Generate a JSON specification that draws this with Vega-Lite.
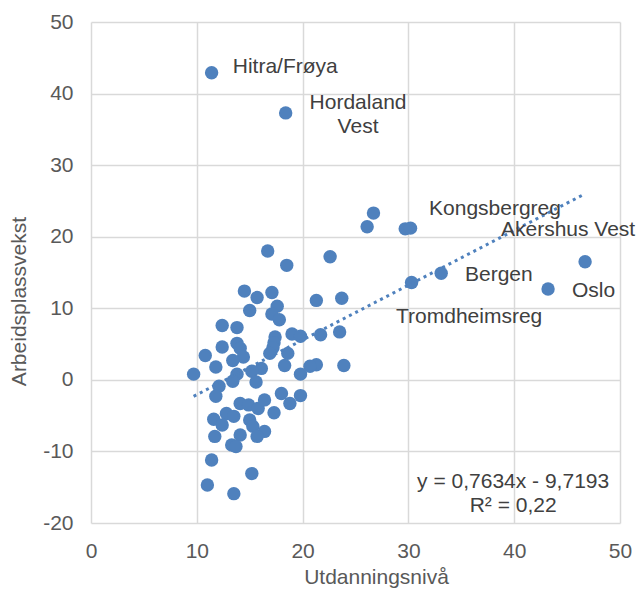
{
  "$schema": "https://vega.github.io/schema/vega-lite/v6.json",
  "width": 529,
  "height": 501,
  "autosize": "none",
  "padding": {"left": 91, "top": 22, "right": 20, "bottom": 67},
  "background": "white",
  "config": {
    "view": {"stroke": null},
    "font": "Liberation Sans",
    "axis": {
      "grid": true,
      "gridColor": "#d9d9d9",
      "gridWidth": 1.5,
      "domain": false,
      "ticks": false,
      "labelFlush": false,
      "labelFont": "Liberation Sans",
      "labelFontSize": 21,
      "labelColor": "#595959",
      "titleFont": "Liberation Sans",
      "titleFontSize": 21,
      "titleFontWeight": "normal",
      "titleColor": "#595959"
    }
  },
  "datasets": {
    "pts": [
      {"x": 11.4, "y": 42.9}, {"x": 18.4, "y": 37.3}, {"x": 26.7, "y": 23.3}, {"x": 26.1, "y": 21.4},
      {"x": 29.7, "y": 21.1}, {"x": 30.2, "y": 21.2}, {"x": 33.1, "y": 14.9}, {"x": 30.3, "y": 13.6},
      {"x": 43.2, "y": 12.7}, {"x": 46.7, "y": 16.5}, {"x": 22.6, "y": 17.2}, {"x": 16.7, "y": 18.0},
      {"x": 18.5, "y": 16.0}, {"x": 14.5, "y": 12.4}, {"x": 15.7, "y": 11.5}, {"x": 17.1, "y": 12.2},
      {"x": 17.6, "y": 10.3}, {"x": 15.0, "y": 9.7}, {"x": 17.1, "y": 9.2}, {"x": 17.8, "y": 8.4},
      {"x": 21.3, "y": 11.1}, {"x": 23.7, "y": 11.4}, {"x": 12.4, "y": 7.6}, {"x": 13.8, "y": 7.3},
      {"x": 19.0, "y": 6.4}, {"x": 19.8, "y": 6.1}, {"x": 21.7, "y": 6.3}, {"x": 23.5, "y": 6.7},
      {"x": 17.4, "y": 6.0}, {"x": 17.3, "y": 5.2}, {"x": 13.8, "y": 5.1}, {"x": 12.4, "y": 4.6},
      {"x": 14.1, "y": 4.4}, {"x": 14.4, "y": 3.2}, {"x": 17.2, "y": 4.5}, {"x": 10.8, "y": 3.4},
      {"x": 13.4, "y": 2.7}, {"x": 16.9, "y": 3.7}, {"x": 18.6, "y": 3.7}, {"x": 11.8, "y": 1.8},
      {"x": 9.7, "y": 0.8}, {"x": 16.1, "y": 1.6}, {"x": 18.3, "y": 2.0}, {"x": 21.3, "y": 2.1},
      {"x": 20.7, "y": 1.9}, {"x": 23.9, "y": 2.0}, {"x": 19.8, "y": 0.8}, {"x": 15.2, "y": 1.2},
      {"x": 13.8, "y": 0.8}, {"x": 13.4, "y": -0.2}, {"x": 15.6, "y": -0.3}, {"x": 12.1, "y": -0.9},
      {"x": 11.8, "y": -2.3}, {"x": 18.0, "y": -1.9}, {"x": 18.8, "y": -3.3}, {"x": 19.8, "y": -2.2},
      {"x": 14.1, "y": -3.3}, {"x": 14.9, "y": -3.5}, {"x": 15.8, "y": -4.0}, {"x": 16.4, "y": -2.8},
      {"x": 17.3, "y": -4.6}, {"x": 12.8, "y": -4.7}, {"x": 11.6, "y": -5.5}, {"x": 12.4, "y": -6.3},
      {"x": 13.5, "y": -5.1}, {"x": 15.0, "y": -5.6}, {"x": 15.3, "y": -6.5}, {"x": 16.4, "y": -7.2},
      {"x": 15.7, "y": -7.9}, {"x": 14.1, "y": -7.7}, {"x": 11.7, "y": -7.9}, {"x": 13.3, "y": -9.1},
      {"x": 13.7, "y": -9.3}, {"x": 11.4, "y": -11.2}, {"x": 15.2, "y": -13.1}, {"x": 11.0, "y": -14.7},
      {"x": 13.5, "y": -15.9}
    ],
    "trend": [
      {"x": 9.7, "y": -2.3},
      {"x": 46.7, "y": 26.0}
    ],
    "lblLeft": [
      {"t": "Hitra/Frøya", "x": 13.4, "y": 43.7},
      {"t": "Kongsbergreg", "x": 31.95, "y": 23.9},
      {"t": "Akershus Vest", "x": 38.75, "y": 20.96},
      {"t": "Bergen", "x": 35.35, "y": 14.67},
      {"t": "Oslo", "x": 45.46, "y": 12.44},
      {"t": "Tromdheimsreg", "x": 28.83, "y": 8.8}
    ],
    "lblCenter": [
      {"t": "Hordaland", "x": 25.24, "y": 38.7},
      {"t": "Vest", "x": 25.24, "y": 35.35},
      {"t": "y = 0,7634x - 9,7193", "x": 39.9, "y": -14.3},
      {"t": "R² = 0,22", "x": 39.9, "y": -17.6}
    ]
  },
  "layer": [
    {
      "data": {"name": "pts"},
      "mark": {"type": "circle", "size": 180, "color": "#4f81bd", "opacity": 1},
      "encoding": {
        "x": {"field": "x", "type": "quantitative", "scale": {"domain": [0, 50], "nice": false},
              "axis": {"values": [0, 10, 20, 30, 40, 50], "labelExpr": "replace(format(datum.value, 'd'), '\u2212', '-')", "title": "Utdanningsnivå", "labelPadding": 17.5, "titlePadding": 5, "titleX": 285}},
        "y": {"field": "y", "type": "quantitative", "scale": {"domain": [-20, 50], "nice": false},
              "axis": {"values": [-20, -10, 0, 10, 20, 30, 40, 50], "labelExpr": "replace(format(datum.value, 'd'), '\u2212', '-')", "title": "Arbeidsplassvekst", "labelPadding": 18, "titlePadding": 13, "titleY": 279}}
      }
    },
    {
      "data": {"name": "trend"},
      "mark": {"type": "line", "color": "#4f81bd", "strokeWidth": 3, "strokeDash": [3, 4]},
      "encoding": {
        "x": {"field": "x", "type": "quantitative"},
        "y": {"field": "y", "type": "quantitative"}
      }
    },
    {
      "data": {"name": "lblLeft"},
      "mark": {"type": "text", "align": "left", "baseline": "middle", "fontSize": 21, "color": "#404040", "font": "Liberation Sans"},
      "encoding": {
        "x": {"field": "x", "type": "quantitative"},
        "y": {"field": "y", "type": "quantitative"},
        "text": {"field": "t"}
      }
    },
    {
      "data": {"name": "lblCenter"},
      "mark": {"type": "text", "align": "center", "baseline": "middle", "fontSize": 21, "color": "#404040", "font": "Liberation Sans"},
      "encoding": {
        "x": {"field": "x", "type": "quantitative"},
        "y": {"field": "y", "type": "quantitative"},
        "text": {"field": "t"}
      }
    }
  ]
}
